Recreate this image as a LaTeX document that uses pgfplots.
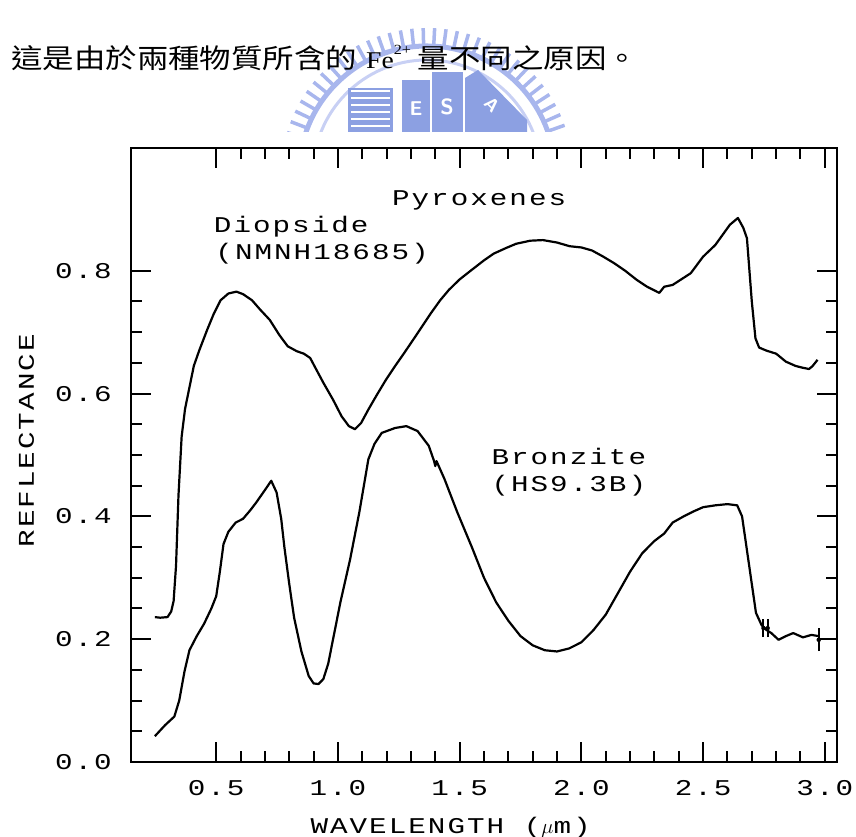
\documentclass[border=0pt]{standalone}
\usepackage{fontspec}
\usepackage{pgfplots}
\pgfplotsset{compat=1.18}
\usetikzlibrary{calc}
\newfontfamily\plotfont[FakeStretch=1.3,LetterSpace=9]{Liberation Mono}
\newfontfamily\cjk[FakeStretch=1.165]{Noto Sans CJK TC}
\newfontfamily\timesf[FakeStretch=1.15]{Liberation Serif}
\newcommand\pf{\fontsize{22.5bp}{24bp}\plotfont}
\definecolor{logoA}{RGB}{140,160,226}
\definecolor{logoB}{RGB}{168,182,237}
\definecolor{logoC}{RGB}{200,208,244}

\pgfplotstableread{
x y
0.248 0.236
0.27 0.235
0.30 0.236
0.315 0.245
0.325 0.262
0.335 0.32
0.345 0.434
0.358 0.53
0.372 0.575
0.39 0.61
0.408 0.645
0.43 0.67
0.463 0.704
0.49 0.73
0.518 0.752
0.55 0.763
0.583 0.766
0.61 0.762
0.647 0.752
0.68 0.737
0.72 0.72
0.76 0.695
0.794 0.677
0.831 0.669
0.86 0.665
0.886 0.658
0.91 0.64
0.941 0.617
0.98 0.59
1.015 0.563
1.045 0.547
1.07 0.542
1.095 0.552
1.125 0.574
1.16 0.598
1.198 0.623
1.235 0.645
1.272 0.666
1.33 0.70
1.382 0.731
1.42 0.752
1.456 0.769
1.50 0.786
1.548 0.801
1.60 0.817
1.64 0.828
1.69 0.837
1.732 0.844
1.79 0.849
1.842 0.850
1.90 0.846
1.952 0.840
2.0 0.838
2.044 0.833
2.09 0.823
2.136 0.812
2.18 0.80
2.228 0.785
2.27 0.774
2.30 0.768
2.32 0.764
2.34 0.774
2.375 0.777
2.41 0.786
2.449 0.796
2.50 0.823
2.55 0.842
2.61 0.875
2.643 0.886
2.665 0.87
2.68 0.853
2.70 0.75
2.715 0.69
2.73 0.675
2.76 0.67
2.80 0.665
2.84 0.652
2.88 0.645
2.91 0.642
2.935 0.64
2.95 0.645
2.97 0.655
}\diopside

\pgfplotstableread{
x y
0.248 0.042
0.29 0.060
0.328 0.074
0.348 0.10
0.37 0.148
0.39 0.182
0.42 0.205
0.45 0.225
0.48 0.25
0.50 0.27
0.515 0.31
0.53 0.355
0.55 0.375
0.58 0.39
0.61 0.396
0.64 0.41
0.665 0.423
0.702 0.444
0.726 0.458
0.748 0.439
0.767 0.396
0.78 0.35
0.80 0.29
0.82 0.235
0.85 0.18
0.88 0.14
0.90 0.128
0.92 0.127
0.94 0.135
0.96 0.16
0.98 0.20
1.01 0.26
1.05 0.33
1.088 0.407
1.125 0.493
1.15 0.518
1.18 0.536
1.235 0.544
1.281 0.547
1.327 0.539
1.373 0.515
1.395 0.49
1.40 0.482
1.405 0.49
1.4375 0.461
1.49 0.407
1.55 0.35
1.60 0.30
1.65 0.26
1.70 0.23
1.75 0.205
1.80 0.19
1.85 0.182
1.90 0.18
1.95 0.185
2.00 0.195
2.05 0.215
2.10 0.24
2.15 0.275
2.20 0.31
2.25 0.34
2.30 0.36
2.34 0.372
2.375 0.39
2.42 0.40
2.46 0.408
2.50 0.415
2.55 0.418
2.60 0.42
2.64 0.418
2.66 0.40
2.68 0.345
2.70 0.29
2.717 0.243
2.74 0.223
2.76 0.215
2.78 0.21
2.81 0.199
2.84 0.205
2.87 0.21
2.91 0.203
2.945 0.207
2.975 0.205
}\bronzite

\begin{document}
\begin{tikzpicture}[x=1bp,y=1bp]
\useasboundingbox (0,0) rectangle (856,837);
% faint watermark logo behind the caption
\begin{scope}
\clip (0,705) rectangle (856,837);
\foreach \a in {6,10.5,...,174} {
  \draw[logoB, line width=3.5bp] ($(427,663)+(\a:128)$) -- ($(427,663)+(\a:146)$);
}
\draw[logoB, line width=5bp] (427,663) ++(176:128) arc (176:4:128);
\draw[logoC, line width=3bp] (427,663) ++(172:114) arc (172:8:114);
\fill[logoA] (348,705) rectangle (393,749);
\foreach \yy in {711,718,...,746} { \draw[white, line width=1.5bp] (351,\yy) -- (390,\yy); }
\fill[logoA] (402,705) rectangle (430,757);
\fill[logoA] (432,705) rectangle (463,765);
\fill[logoA] (465,705) -- (465,759) -- (478,767) -- (527,717) -- (527,705) -- cycle;
\node[white, font=\sffamily\bfseries\fontsize{20bp}{20bp}\selectfont] at (416,728) {E};
\node[white, font=\sffamily\bfseries\fontsize{22bp}{22bp}\selectfont] at (447,730) {S};
\node[white, rotate=-45, font=\sffamily\bfseries\fontsize{18bp}{18bp}\selectfont] at (492,732) {A};
\end{scope}
\node[anchor=base west, inner sep=0] at (11,768)
  {\fontsize{27bp}{27bp}\cjk 這是由於兩種物質所含的\hspace{9bp}{\fontsize{24bp}{24bp}\timesf Fe\raisebox{14bp}{\fontsize{14bp}{14bp}\selectfont 2+}}\hspace{7bp}量不同之原因。};
\begin{axis}[
  at={(131bp,75bp)}, anchor=south west,
  width=706bp, height=614bp, scale only axis,
  xmin=0.15, xmax=3.05, ymin=0, ymax=1,
  xtick={0.5,1,1.5,2,2.5,3},
  ytick={0,0.2,0.4,0.6,0.8},
  minor x tick num=4, minor y tick num=3,
  major tick length=20bp, minor tick length=11bp,
  tick style={line width=2bp, black},
  axis line style={line width=2.4bp},
  /pgf/number format/assume math mode=true,
  /pgf/number format/fixed,
  /pgf/number format/fixed zerofill,
  /pgf/number format/precision=1,
  tick label style={font=\pf, inner sep=0pt},
  xticklabel style={yshift=-18bp},
  yticklabel style={xshift=-19bp},
  xlabel={WAVELENGTH\ ($\mu$m)},
  ylabel={REFLECTANCE},
  every axis x label/.style={at={(axis description cs:0.254,-0.117)}, anchor=base west, font=\pf, inner sep=0pt},
  every axis y label/.style={at={(axis description cs:-0.148,0.523)}, anchor=center, rotate=90, font=\pf, inner sep=0pt},
]
\addplot[black, line width=2.2bp, line join=round] table[x=x,y=y] {\diopside};
\addplot[black, line width=2.2bp, line join=round] table[x=x,y=y] {\bronzite};
\addplot[black, only marks, mark=none,
  error bars/.cd, y dir=both, y explicit,
  error bar style={line width=2bp},
  error mark options={black, line width=2bp, mark size=4bp}]
  coordinates {(2.748,0.218) +- (0,0.008) (2.765,0.218) +- (0,0.008) (2.975,0.199) +- (0,0.012)};
\node[anchor=base, inner sep=0, font=\pf] at (axis cs:1.58,0.906) {Pyroxenes};
\node[anchor=base west, inner sep=0, font=\pf] at (axis cs:0.49,0.863) {Diopside};
\node[anchor=base west, inner sep=0, font=\pf] at (axis cs:0.496,0.819) {(NMNH18685)};
\node[anchor=base west, inner sep=0, font=\pf] at (axis cs:1.63,0.485) {Bronzite};
\node[anchor=base west, inner sep=0, font=\pf] at (axis cs:1.63,0.44) {(HS9.3B)};
\end{axis}
\end{tikzpicture}
\end{document}
